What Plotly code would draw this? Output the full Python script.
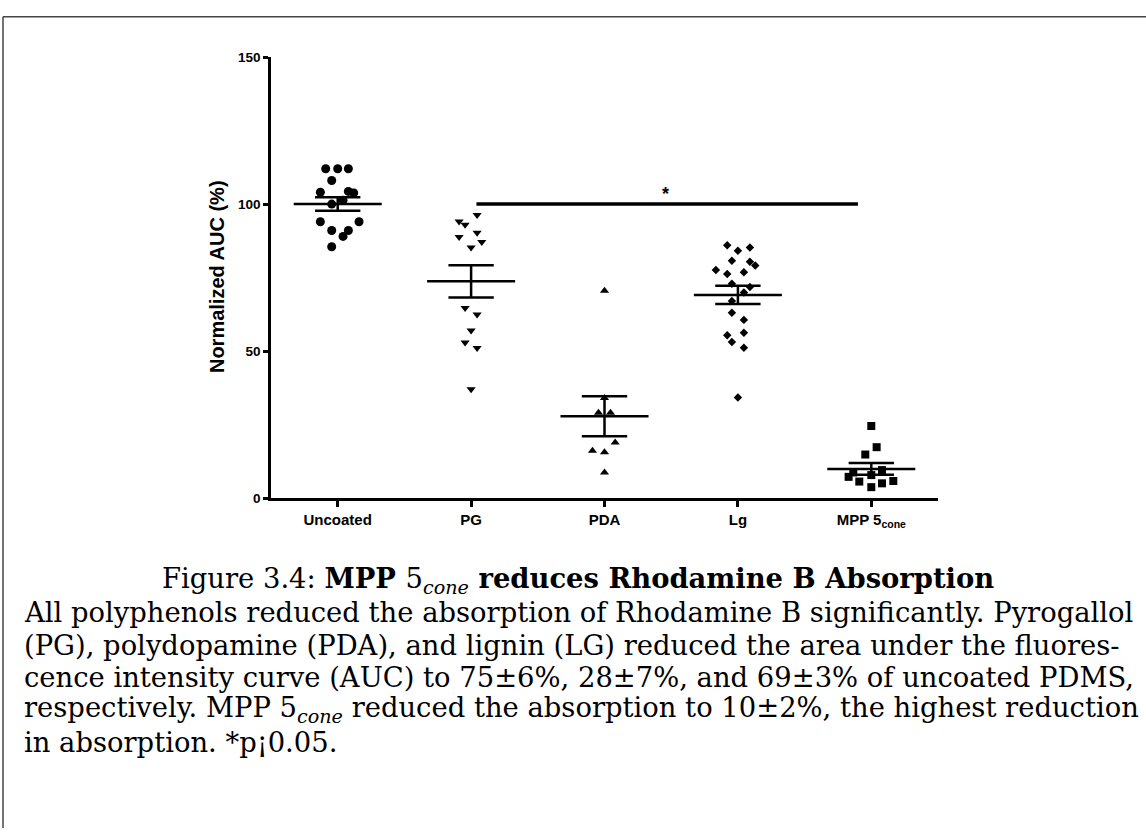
import plotly.graph_objects as go

# ---------------- data ----------------
categories = ["Uncoated", "PG", "PDA", "Lg", "MPP 5<sub>cone</sub>"]

uncoated_vals = [112, 112, 112, 108, 104, 104.3, 103.8, 100, 101.3, 94, 94, 91, 91, 89, 85.5]
pg_vals = [96.3, 94.1, 93, 90.2, 88.8, 87.1, 85.2, 64.6, 62.4, 57, 52.9, 51, 37]
pda_vals = [70.5, 34, 29, 29, 18.9, 16.1, 15.6, 8.7]
lg_vals = [86, 84.1, 85.2, 80.7, 80.4, 79.1, 77.6, 76.2, 76.8, 72.9, 71.8, 69.9,
           67, 63, 60.6, 56.2, 55.4, 53.1, 51.1, 34.2]
mpp_vals = [24.5, 17.3, 14.8, 8.7, 9.5, 7.2, 7.8, 5.6, 5.0, 5.8, 3.7]

group_means = [100, 73.7, 27.8, 69.1, 9.9]
group_sems = [2.3, 5.5, 6.8, 3.1, 2.0]

y_ticks = [0, 50, 100, 150]

# significance comparison: PG vs MPP 5cone at 100 %
sig_from, sig_to, sig_level, sig_label = 1.04, 3.9, 100, "*"

# ---------------- horizontal scatter (column jitter) ----------------
uncoated_jit = [-0.09, 0, 0.08, -0.045, -0.13, 0.08, 0.12, -0.045, 0.04, -0.13, 0.16, -0.045, 0.08, 0.04, -0.045]
pg_jit = [0.045, -0.09, -0.045, 0.045, -0.09, 0.08, 0, -0.045, 0.045, 0, -0.045, 0.045, 0]
pda_jit = [0, 0, -0.045, 0.045, 0.08, -0.09, 0, 0]
lg_jit = [-0.08, 0, 0.09, -0.045, 0.09, 0.13, -0.165, -0.08, 0.045, -0.045, 0.09, 0.045,
          -0.045, -0.045, 0.045, 0.045, -0.08, -0.045, 0.045, 0]
mpp_jit = [0, 0.04, -0.045, -0.135, 0.08, -0.17, 0, -0.09, 0.08, 0.165, 0]

groups = [
    (uncoated_vals, uncoated_jit, "circle", 9),
    (pg_vals, pg_jit, "triangle-down", 8),
    (pda_vals, pda_jit, "triangle-up", 8),
    (lg_vals, lg_jit, "diamond", 6.5),
    (mpp_vals, mpp_jit, "square", 8),
]

W, H = 1146, 836
fig = go.Figure()

for i, (vals, jit, sym, sz) in enumerate(groups):
    fig.add_trace(go.Scatter(
        x=[i + j for j in jit], y=vals, mode="markers",
        marker=dict(symbol=sym, size=sz, color="black", line=dict(width=0)),
        showlegend=False, hoverinfo="y", cliponaxis=False))

# mean + SEM bars
mean_hw, cap_hw = 0.33, 0.17
for i, (m, s) in enumerate(zip(group_means, group_sems)):
    xs = [i - mean_hw, i + mean_hw, None,
          i - cap_hw, i + cap_hw, None,
          i - cap_hw, i + cap_hw, None,
          i, i]
    ys = [m, m, None, m + s, m + s, None, m - s, m - s, None, m + s, m - s]
    fig.add_trace(go.Scatter(x=xs, y=ys, mode="lines",
                             line=dict(color="black", width=2.5),
                             showlegend=False, hoverinfo="skip", cliponaxis=False))

# significance bar
fig.add_trace(go.Scatter(x=[sig_from, sig_to], y=[sig_level, sig_level], mode="lines",
                         line=dict(color="black", width=3.5), showlegend=False,
                         hoverinfo="skip", cliponaxis=False))
fig.add_annotation(x=(sig_from + sig_to) / 2 - 0.01, y=sig_level, yshift=10, text="<b>" + sig_label + "</b>",
                   showarrow=False, font=dict(family="Liberation Sans", size=18, color="black"))

x0_px, x1_px = 271, 938
y0_px, y1_px = 500, 51

fig.update_layout(
    width=W, height=H, margin=dict(l=0, r=0, t=0, b=0),
    paper_bgcolor="white", plot_bgcolor="white",
    xaxis=dict(domain=[x0_px / W, x1_px / W], range=[-0.5, 4.5],
               tickvals=list(range(len(categories))),
               ticktext=["<b>" + c + "</b>" for c in categories],
               tickfont=dict(family="Liberation Sans", size=15, color="black"),
               showline=True, linecolor="black", linewidth=2.5,
               ticks="outside", ticklen=6, tickwidth=2.5, tickcolor="black",
               showgrid=False, zeroline=False, fixedrange=True),
    yaxis=dict(domain=[(H - y0_px) / H, (H - y1_px) / H], range=[0, 150],
               tickvals=y_ticks, ticktext=["<b>%d</b>" % v for v in y_ticks],
               tickfont=dict(family="Liberation Sans", size=13.5, color="black"),
               showline=True, linecolor="black", linewidth=2.5,
               ticks="outside", ticklen=5, tickwidth=2.5, tickcolor="black",
               showgrid=False, zeroline=False, fixedrange=True),
    font=dict(family="Liberation Sans", color="black"),
)

# y-axis title
fig.add_annotation(xref="paper", yref="paper", x=217 / W, y=(H - 275) / H,
                   xanchor="center", yanchor="middle",
                   text="<b>Normalized AUC (%)</b>", textangle=-90, showarrow=False,
                   font=dict(family="Liberation Sans", size=20, color="black"))

# page frame (top and left)
fig.add_shape(type="line", xref="paper", yref="paper", x0=3 / W, x1=1, y0=(H - 10) / H, y1=(H - 10) / H,
              line=dict(color="#444444", width=1.5))
fig.add_shape(type="line", xref="paper", yref="paper", x0=3 / W, x1=3 / W, y0=0, y1=(H - 10) / H,
              line=dict(color="#444444", width=1.5))

# caption
serif = "DejaVu Serif"
cap_size = 27.4
fig.add_annotation(xref="paper", yref="paper", x=578 / W, y=(H - 584) / H, xanchor="center", yanchor="middle",
                   text="Figure 3.4: <b>MPP </b>5<sub><i>cone</i></sub><b> reduces Rhodamine B Absorption</b>",
                   showarrow=False, font=dict(family=serif, size=cap_size, color="black"))
caption_lines = [
    "All polyphenols reduced the absorption of Rhodamine B significantly. Pyrogallol",
    "(PG), polydopamine (PDA), and lignin (LG) reduced the area under the fluores-",
    "cence intensity curve (AUC) to 75±6%, 28±7%, and 69±3% of uncoated PDMS,",
    "respectively. MPP 5<sub><i>cone</i></sub> reduced the absorption to 10±2%, the highest reduction",
    "in absorption. *p¡0.05.",
]
line_y = [617, 650, 683, 716, 749]
for txt, yy in zip(caption_lines, line_y):
    fig.add_annotation(xref="paper", yref="paper", x=22 / W, y=(H - yy) / H, xanchor="left", yanchor="middle",
                       text=txt, showarrow=False, font=dict(family=serif, size=cap_size, color="black"))

fig.write_html("out.html")
